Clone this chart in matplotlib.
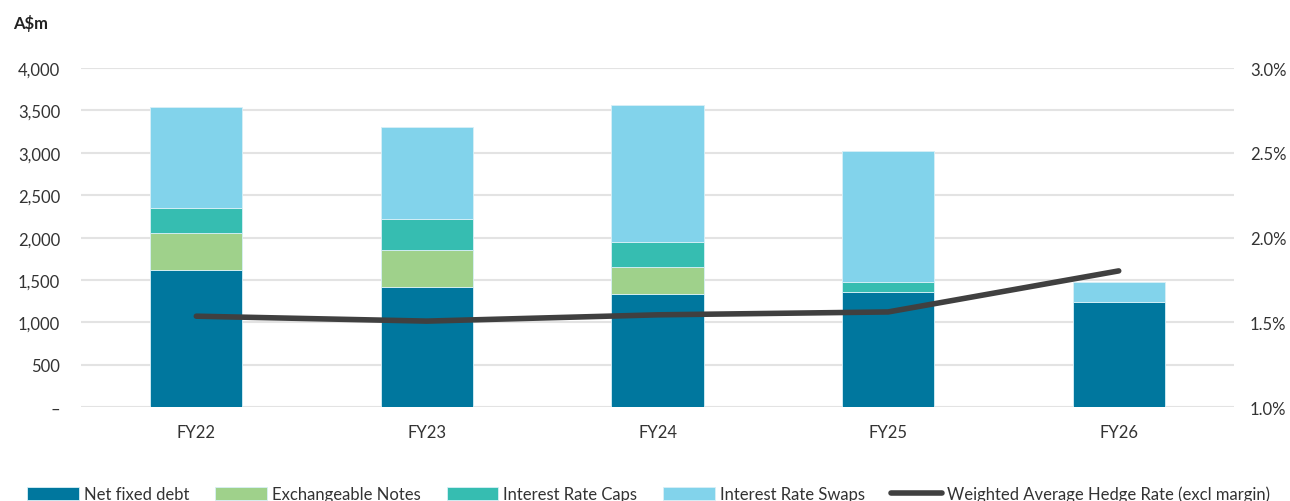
import matplotlib.pyplot as plt
from matplotlib.ticker import FuncFormatter

# Data (A$m)
years = ['FY22', 'FY23', 'FY24', 'FY25', 'FY26']
net_fixed_debt = [1620, 1420, 1340, 1365, 1240]
exchangeable_notes = [433, 433, 312, 0, 0]
interest_rate_caps = [302, 372, 302, 117, 0]
interest_rate_swaps = [1180, 1082, 1613, 1534, 235]
hedge_rate = [1.537, 1.508, 1.545, 1.562, 1.804]

colors = ['#00779E', '#9FD18B', '#36BDB1', '#82D3EB']
labels = ['Net fixed debt', 'Exchangeable Notes', 'Interest Rate Caps', 'Interest Rate Swaps']
text_color = '#333333'

plt.rcParams['font.family'] = ['Lato', 'DejaVu Sans']

fig = plt.figure(figsize=(12.9, 5.02), dpi=100)
ax = fig.add_axes([0.0628, 0.1867, 0.8938, 0.6758])

x = list(range(len(years)))
bottom = [0] * len(years)
for vals, c, lab in zip([net_fixed_debt, exchangeable_notes, interest_rate_caps, interest_rate_swaps],
                        colors, labels):
    ax.bar(x, vals, 0.4, bottom=bottom, color=c, label=lab,
           edgecolor='#d8f0f7', linewidth=0.6, zorder=2)
    bottom = [b + v for b, v in zip(bottom, vals)]

ax.set_xlim(-0.5, 4.5)
ax.set_ylim(0, 4000)
ax.set_yticks(range(0, 4001, 500))
ax.yaxis.set_major_formatter(FuncFormatter(lambda v, p: '–' if v == 0 else f'{int(v):,}'))
ax.set_xticks(x)
ax.set_xticklabels(years)
ax.grid(axis='y', color='#e3e3e3', linewidth=1.5, zorder=0)
for s in ax.spines.values():
    s.set_visible(False)
ax.tick_params(axis='y', length=0, labelsize=12, colors=text_color, pad=15)
ax.tick_params(axis='x', length=0, labelsize=12, colors=text_color, pad=12)
ax.text(-0.059, 1.133, 'A$m', transform=ax.transAxes, fontsize=12,
        fontweight='bold', color='#222222', ha='left', va='center')

ax2 = ax.twinx()
ax2.plot(x, hedge_rate, color='#404040', linewidth=4, solid_capstyle='round',
         label='Weighted Average Hedge Rate (excl margin)', zorder=3)
ax2.set_ylim(1.0, 3.0)
ax2.set_yticks([1.0, 1.5, 2.0, 2.5, 3.0])
ax2.yaxis.set_major_formatter(FuncFormatter(lambda v, p: f'{v:.1f}%'))
for s in ax2.spines.values():
    s.set_visible(False)
ax2.tick_params(length=0, labelsize=12, colors=text_color, pad=11.5)

h1, l1 = ax.get_legend_handles_labels()
h2, l2 = ax2.get_legend_handles_labels()
fig.legend(h1 + h2, l1 + l2, loc='center', bbox_to_anchor=(0.503, 0.014), ncol=5,
           frameon=False, fontsize=12, handlelength=3.1, handleheight=0.75,
           columnspacing=1.55, handletextpad=0.3, labelcolor=text_color)

fig.savefig('out.png', dpi=100)
